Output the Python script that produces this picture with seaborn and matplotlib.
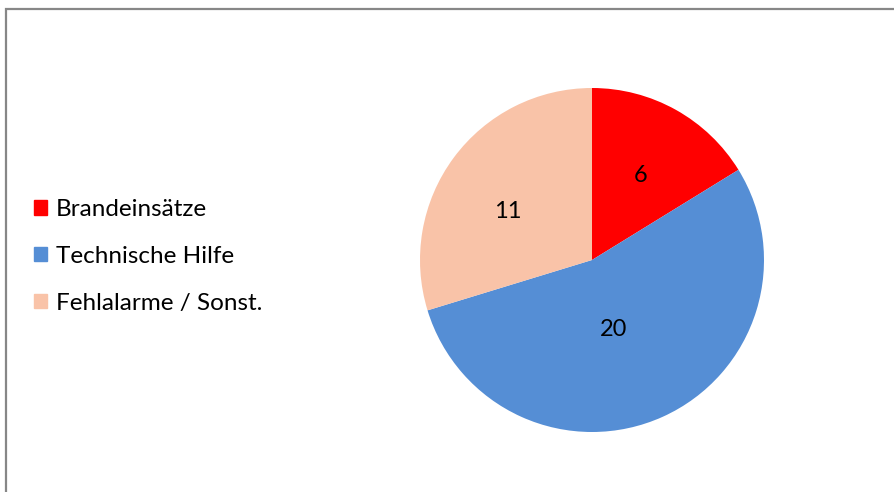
import matplotlib
matplotlib.use("Agg")
import matplotlib.pyplot as plt
import matplotlib.patches as mpatches
import seaborn as sns
import numpy as np

categories = ["Brandeinsätze", "Technische Hilfe", "Fehlalarme / Sonst."]
values = [6, 20, 11]
colors = ["#FF0000", "#558ED5", "#F9C3A8"]
label_dist = [0.57, 0.42, 0.565]
label_ang_off = [-0.8, -7.3, 6.8]

sns.set_theme(style="white")
plt.rcParams['font.family'] = ['Lato', 'DejaVu Sans']

W, H = 895, 492
fig = plt.figure(figsize=(W / 100, H / 100), dpi=100)
ax = fig.add_axes([0, 0, 1, 1])
ax.set_xlim(0, W)
ax.set_ylim(0, H)
ax.set_aspect('equal')
ax.axis('off')

cx, cy, r = 592, H - 260, 172
wedges, texts = ax.pie(values, colors=colors, startangle=90, counterclock=False,
                       center=(cx, cy), radius=r, labels=[str(v) for v in values],
                       labeldistance=0.55, textprops=dict(fontsize=17, color="#000000"),
                       wedgeprops=dict(linewidth=0))
for w, t, d, off in zip(wedges, texts, label_dist, label_ang_off):
    ang = np.deg2rad((w.theta1 + w.theta2) / 2 + off)
    t.set_position((cx + d * r * np.cos(ang), cy + d * r * np.sin(ang)))
    t.set_ha('center'); t.set_va('center')
ax.set_xlim(0, W)
ax.set_ylim(0, H)

handles = [mpatches.Patch(color=c, label=l) for c, l in zip(colors, categories)]
leg = ax.legend(handles=handles, loc='upper left', bbox_to_anchor=(34 / W, 1 - 199 / H),
                frameon=False, fontsize=17.5, handlelength=0.55, handleheight=0.55,
                handletextpad=0.35, labelspacing=1.06, borderaxespad=0, borderpad=0)
for t in leg.get_texts():
    t.set_color("#000000")

fig.patches.append(mpatches.Rectangle((6.5 / W, -0.1), 1.2, 1.1 - 8.5 / H,
                                      transform=fig.transFigure, fill=False,
                                      edgecolor="#878787", linewidth=1.6))

fig.savefig("out.png", dpi=100, facecolor="white")
